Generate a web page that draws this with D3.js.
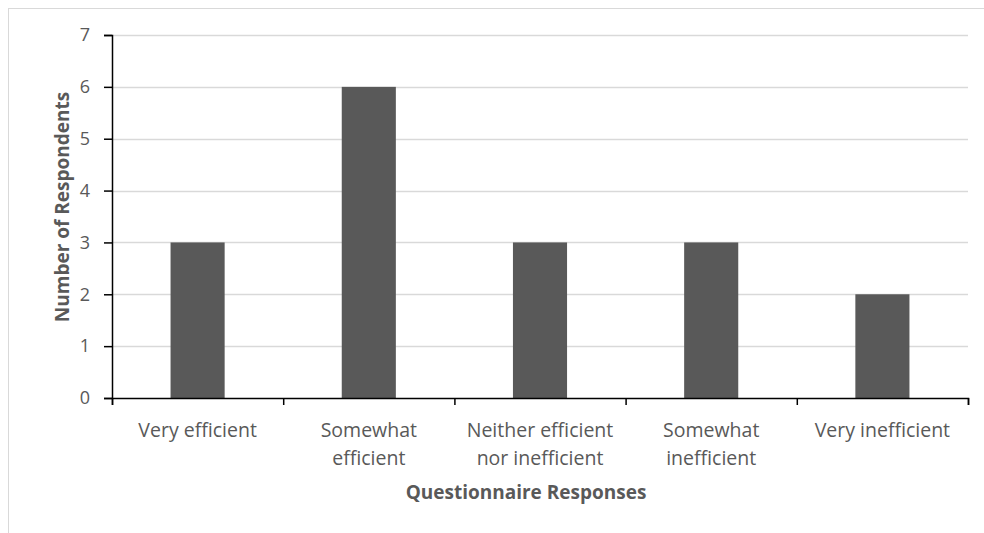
<!DOCTYPE html>
<html>
<head>
<meta charset="utf-8">
<script src="https://cdn.jsdelivr.net/npm/d3@7"></script>
<style>
  html, body { margin: 0; padding: 0; background: #fff; }
  svg { display: block; }
</style>
</head>
<body>
<svg id="chart" width="984" height="533"></svg>
<script>
// Survey responses on perceived efficiency
const categories = [
  ["Very efficient"],
  ["Somewhat", "efficient"],
  ["Neither efficient", "nor inefficient"],
  ["Somewhat", "inefficient"],
  ["Very inefficient"]
];
const respondents = [3, 6, 3, 3, 2];
const yTicks = [0, 1, 2, 3, 4, 5, 6, 7];

const svg = d3.select("#chart");
const font = "'Open Sans', sans-serif";
const textColor = "#595959";

// chart frame
svg.append("rect")
  .attr("x", 8.5).attr("y", 8.5)
  .attr("width", 1000).attr("height", 600)
  .attr("fill", "#fff").attr("stroke", "#d9d9d9");

const plot = { left: 112, right: 968, top: 35, bottom: 398 };

const keys = categories.map(c => c.join(" "));
const x = d3.scaleBand().domain(keys).range([plot.left, plot.right]).paddingInner(0.684).paddingOuter(0.342);
const xTickScale = d3.scaleLinear().domain([0, categories.length]).range([plot.left, plot.right]);
const y = d3.scaleLinear().domain([0, 7]).range([plot.bottom, plot.top]);

// horizontal gridlines
svg.append("g").selectAll("line").data(yTicks.filter(d => d > 0)).join("line")
  .attr("x1", plot.left).attr("x2", plot.right)
  .attr("y1", d => Math.round(y(d)) + 0.5).attr("y2", d => Math.round(y(d)) + 0.5)
  .attr("stroke", "#d9d9d9").attr("stroke-width", 1.5);

// bars
svg.append("g").selectAll("rect").data(respondents).join("rect")
  .attr("x", (d, i) => x(keys[i]))
  .attr("width", x.bandwidth())
  .attr("y", d => y(d))
  .attr("height", d => y(0) - y(d))
  .attr("fill", "#595959");

// y axis
const yAxis = svg.append("g")
  .attr("transform", `translate(${plot.left},0)`)
  .call(d3.axisLeft(y).tickValues(yTicks).tickSize(8).tickPadding(14).tickFormat(d3.format("d")));
yAxis.select(".domain").attr("stroke", "#000").attr("stroke-width", 1.5);
yAxis.selectAll(".tick line").attr("stroke", "#000").attr("stroke-width", 1.5);
yAxis.selectAll("text").attr("font-family", font).attr("font-size", 18).attr("fill", textColor);

// x axis with category boundary ticks
const xAxis = svg.append("g")
  .attr("transform", `translate(0,${plot.bottom})`)
  .call(d3.axisBottom(xTickScale).tickValues(d3.range(0, categories.length + 1)).tickSize(7).tickFormat(""));
xAxis.select(".domain").attr("stroke", "#000").attr("stroke-width", 1.5);
xAxis.selectAll(".tick line").attr("stroke", "#000").attr("stroke-width", 1.5);

// category labels
const labels = svg.append("g").selectAll("text").data(categories).join("text")
  .attr("x", (d, i) => x(keys[i]) + x.bandwidth() / 2)
  .attr("y", 437)
  .attr("text-anchor", "middle")
  .attr("font-family", font).attr("font-size", 19.5).attr("fill", textColor);
labels.selectAll("tspan").data(d => d).join("tspan")
  .attr("x", function() { return this.parentNode.getAttribute("x"); })
  .attr("dy", (d, i) => i === 0 ? 0 : 28)
  .text(d => d);

// axis titles
svg.append("text")
  .attr("x", 526).attr("y", 499)
  .attr("text-anchor", "middle")
  .attr("font-family", font).attr("font-size", 19).attr("font-weight", "bold")
  .attr("fill", textColor)
  .text("Questionnaire Responses");

svg.append("text")
  .attr("transform", "translate(69,207) rotate(-90)")
  .attr("text-anchor", "middle")
  .attr("font-family", font).attr("font-size", 19).attr("font-weight", "bold")
  .attr("fill", textColor)
  .text("Number of Respondents");
</script>
</body>
</html>
